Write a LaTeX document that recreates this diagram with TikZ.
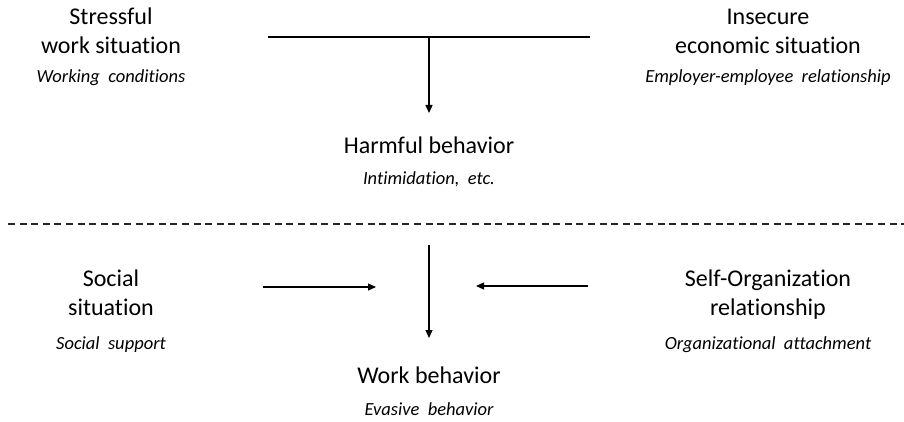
\documentclass[tikz,border=0pt]{standalone}
\usepackage{fontspec}
\setmainfont{Carlito}[Ligatures=NoCommon]
\newfontfamily\examplefont{Carlito}[Ligatures=NoCommon, WordSpace=2]
\usetikzlibrary{arrows.meta,positioning}

\begin{document}
\begin{tikzpicture}[x=1pt, y=-1pt,
    factor/.style={align=center, anchor=base, inner sep=0pt,
                   font=\fontsize{24}{29}\selectfont},
    example/.style={anchor=base, inner sep=0pt,
                    font=\examplefont\fontsize{18.5}{22}\selectfont\itshape},
    link/.style={line width=1.2pt},
    arr/.style={-{Triangle[length=8pt,width=7pt]}, line width=1.2pt},
    sep/.style={line width=1.3pt, black!85, dash pattern=on 7pt off 4.6pt},
  ]
    \useasboundingbox (0,0) rectangle (904,422);

    % upper half: sources of harmful behavior
    \node[factor] (stress) at (111,54) {Stressful\\work situation};
    \node[example] (stressex) at (111,83) {Working conditions};
    \node[factor] (insecure) at (768,54) {Insecure\\economic situation};
    \node[example] (insecureex) at (768,83) {Employer-employee relationship};
    \node[factor] (harm) at (429,154) {Harmful behavior};
    \node[example] (harmex) at (429,185) {Intimidation, etc.};

    \coordinate (joinL) at (268,37);
    \coordinate (joinR) at (590,37);
    \coordinate (joinM) at (429,37);
    \coordinate (harmin) at (429,113);
    \draw[link] (joinL) -- (joinR);
    \draw[arr] (joinM) -- (harmin);

    % separator
    \coordinate (sepL) at (8,224);
    \coordinate (sepR) at (904,224);
    \draw[sep] (sepL) -- (sepR);

    % lower half: moderators of work behavior
    \node[factor] (social) at (111,315) {Social\\situation};
    \node[example] (socialex) at (111,349) {Social support};
    \node[factor] (selforg) at (768,315) {Self-Organization\\relationship};
    \node[example] (selforgex) at (768,349) {Organizational attachment};
    \node[factor] (work) at (429,383) {Work behavior};
    \node[example] (workex) at (429,415) {Evasive behavior};

    \coordinate (workfrom) at (429,245);
    \coordinate (workin) at (429,338);
    \coordinate (socfrom) at (263,287);
    \coordinate (socto) at (376,287);
    \coordinate (orgfrom) at (588,286);
    \coordinate (orgto) at (476,286);
    \draw[arr] (workfrom) -- (workin);
    \draw[arr] (socfrom) -- (socto);
    \draw[arr] (orgfrom) -- (orgto);
\end{tikzpicture}
\end{document}
